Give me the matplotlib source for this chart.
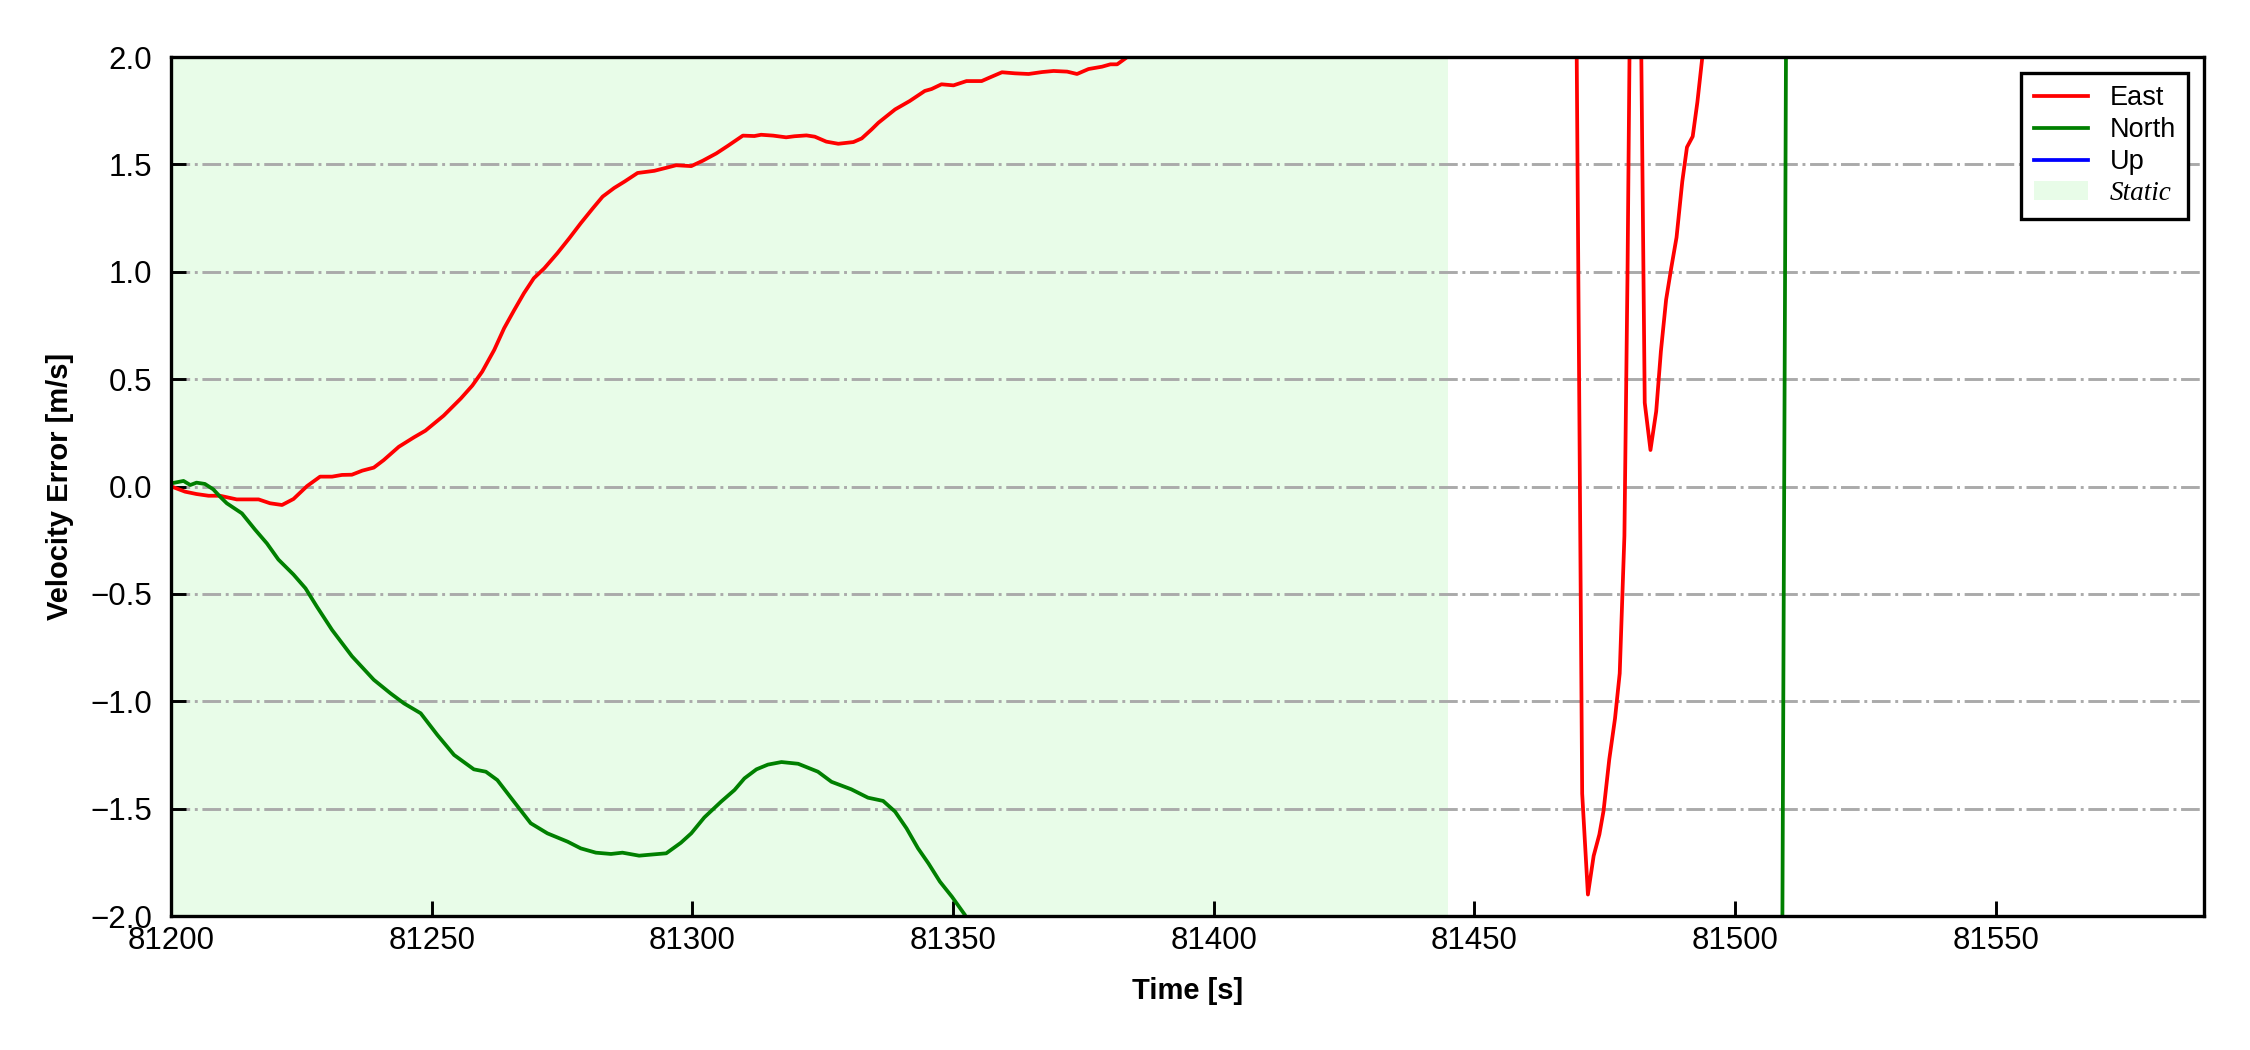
import matplotlib
matplotlib.use("Agg")
import matplotlib.pyplot as plt

plt.rcParams["font.family"] = ["Liberation Sans", "DejaVu Sans"]

# East velocity error (values past +/-2 leave the plot)
t_east = [81200.1, 81202.7, 81204.9, 81207.2, 81209.4, 81212.6, 81216.8, 81219.0, 81221.3, 81223.5,
          81226.1, 81228.6, 81230.9, 81232.8, 81234.7, 81236.7, 81238.9, 81240.8, 81243.7, 81246.6,
          81248.8, 81252.3, 81255.6, 81257.8, 81259.7, 81262.0, 81263.9, 81265.8, 81267.7, 81269.6,
          81271.6, 81274.1, 81276.4, 81278.6, 81280.9, 81282.8, 81285.0, 81287.0, 81289.5, 81292.7,
          81295.3, 81296.9, 81299.8, 81302.0, 81304.6, 81306.8, 81309.7, 81311.9, 81313.2, 81315.5,
          81318.0, 81319.6, 81321.9, 81323.5, 81325.7, 81328.0, 81330.9, 81332.5, 81334.4, 81335.7,
          81338.9, 81341.7, 81344.6, 81345.9, 81347.8, 81350.1, 81352.6, 81355.5, 81357.1, 81359.4,
          81361.9, 81364.5, 81367.1, 81369.3, 81371.9, 81373.8, 81376.0, 81378.6, 81380.2, 81381.5,
          81383.1, 81385.0, 81400.0, 81430.0, 81469.5, 81470.7, 81471.8, 81472.9, 81474.0, 81474.8,
          81475.9, 81477.0, 81477.9, 81478.8, 81479.4, 81480.0, 81481.8, 81482.7, 81483.8, 81484.9,
          81485.8, 81486.8, 81487.8, 81488.8, 81489.9, 81490.8, 81491.9, 81492.8, 81494.2, 81520.0,
          81590.0]
v_east = [0.0, -0.024, -0.035, -0.043, -0.043, -0.06, -0.06, -0.078, -0.086, -0.058,
          0.002, 0.046, 0.046, 0.054, 0.055, 0.074, 0.088, 0.123, 0.185, 0.229,
          0.26, 0.33, 0.41, 0.47, 0.535, 0.636, 0.737, 0.82, 0.90, 0.97,
          1.016, 1.086, 1.156, 1.226, 1.295, 1.35, 1.39, 1.42, 1.46, 1.47,
          1.486, 1.496, 1.492, 1.517, 1.551, 1.586, 1.634, 1.632, 1.638, 1.634,
          1.626, 1.631, 1.635, 1.629, 1.606, 1.596, 1.604, 1.621, 1.663, 1.694,
          1.756, 1.795, 1.842, 1.851, 1.873, 1.868, 1.888, 1.888, 1.905, 1.929,
          1.924, 1.921, 1.930, 1.935, 1.932, 1.921, 1.944, 1.955, 1.966, 1.966,
          1.994, 2.03, 2.6, 3.5, 2.5, -1.43, -1.90, -1.72, -1.62, -1.51,
          -1.27, -1.08, -0.87, -0.23, 1.00, 2.6, 2.6, 0.39, 0.17, 0.35,
          0.63, 0.87, 1.02, 1.16, 1.42, 1.58, 1.63, 1.79, 2.1, 3.0,
          4.0]

# North velocity error
t_north = [81200.1, 81202.4, 81203.7, 81204.9, 81206.5, 81208.1, 81209.4, 81210.7, 81213.6, 81216.1,
           81218.4, 81220.6, 81223.5, 81225.8, 81228.0, 81230.9, 81234.7, 81238.9, 81242.1, 81244.7,
           81247.9, 81251.1, 81254.3, 81258.1, 81260.4, 81262.6, 81265.8, 81269.0, 81272.2, 81276.1,
           81278.6, 81281.5, 81284.4, 81286.6, 81289.8, 81292.1, 81295.0, 81297.8, 81299.8, 81302.3,
           81305.5, 81308.1, 81310.0, 81312.3, 81314.5, 81317.1, 81320.3, 81324.1, 81326.7, 81330.5,
           81333.7, 81336.6, 81338.9, 81341.1, 81343.3, 81345.3, 81347.5, 81349.8, 81352.3, 81360.0,
           81420.0, 81509.1, 81509.8, 81540.0, 81590.0]
v_north = [0.015, 0.026, 0.007, 0.018, 0.012, -0.013, -0.047, -0.078, -0.125, -0.20,
           -0.265, -0.34, -0.41, -0.474, -0.56, -0.668, -0.79, -0.90, -0.963, -1.01,
           -1.056, -1.157, -1.25, -1.317, -1.328, -1.367, -1.468, -1.568, -1.615, -1.654,
           -1.685, -1.705, -1.711, -1.705, -1.719, -1.714, -1.708, -1.659, -1.615, -1.541,
           -1.468, -1.413, -1.359, -1.317, -1.295, -1.283, -1.291, -1.328, -1.375, -1.41,
           -1.449, -1.464, -1.514, -1.592, -1.685, -1.755, -1.84, -1.91, -1.995, -2.5,
           -3.5, -2.05, 2.05, 3.5, 4.0]

# Up velocity error never shows inside the plotted range
t_up = []
v_up = []

static_start = 81200
static_end = 81445
x_ticks = [81200, 81250, 81300, 81350, 81400, 81450, 81500, 81550]
y_ticks = [-2.0, -1.5, -1.0, -0.5, 0.0, 0.5, 1.0, 1.5, 2.0]

fig = plt.figure(figsize=(7.5, 3.5), dpi=300)
ax = fig.add_axes([0.076, 0.1276, 0.9036, 0.8181])

ax.plot(t_east, v_east, color="red", lw=0.9, label="East")
ax.plot(t_north, v_north, color="green", lw=0.9, label="North")
ax.plot(t_up, v_up, color="blue", lw=0.9, label="Up")
ax.axvspan(static_start, static_end, color="#e8fce8", lw=0, label="Static")

ax.set_xlim(81200, 81590)
ax.set_ylim(-2, 2)
ax.set_xticks(x_ticks)
ax.set_yticks(y_ticks)
ax.yaxis.grid(True, linestyle="-.", color="#aaaaaa", lw=0.7)
ax.tick_params(direction="in", length=3.5, width=0.7, labelsize=7.5)
ax.tick_params(axis="x", pad=2.5)
ax.tick_params(axis="y", pad=4.5)
for s in ax.spines.values():
    s.set_linewidth(0.8)

ax.set_xlabel("Time [s]", fontsize=7, fontweight="bold", labelpad=5)
ax.set_ylabel("Velocity Error [m/s]", fontsize=7, fontweight="bold", labelpad=4)

leg = ax.legend(loc="upper right", fontsize=6.5, fancybox=False, edgecolor="black",
                framealpha=1, handlelength=2.0, borderpad=0.45, labelspacing=0.22,
                borderaxespad=0.6)
leg.get_frame().set_linewidth(0.8)
leg.get_texts()[3].set_fontfamily("Liberation Serif")
leg.get_texts()[3].set_fontstyle("italic")

fig.savefig("out.png", dpi=300)
